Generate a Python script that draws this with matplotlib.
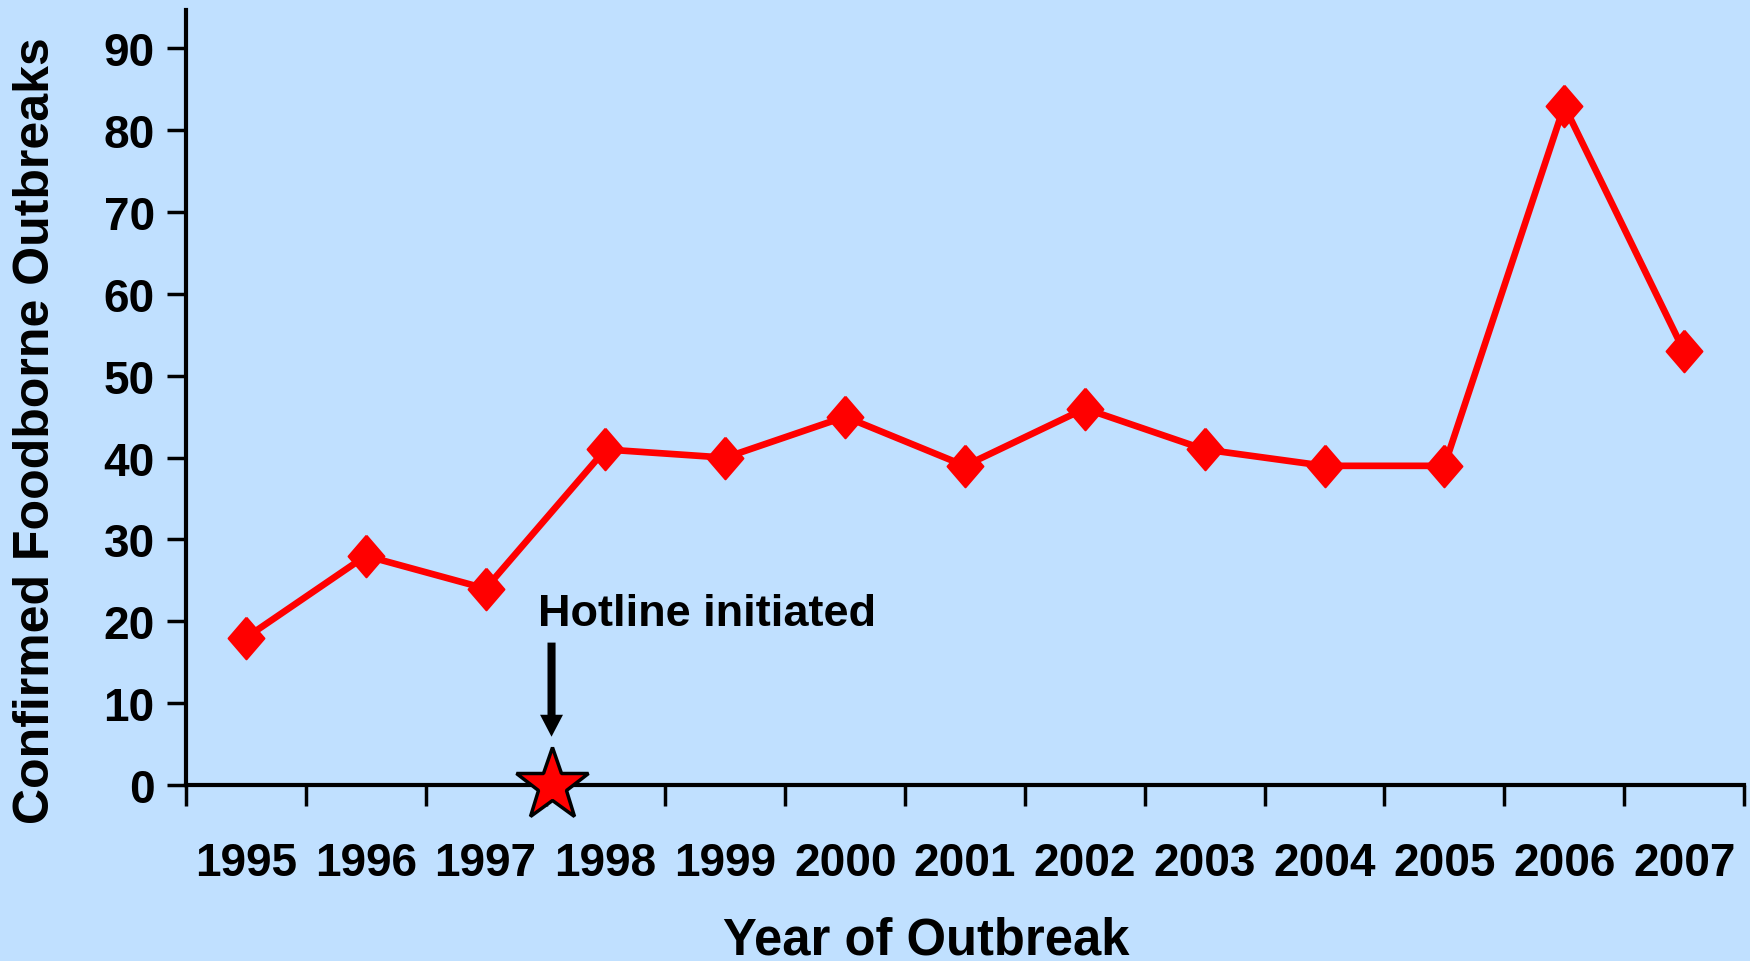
import numpy as np
import matplotlib
matplotlib.use('Agg')
from matplotlib import pyplot as plt

years = ['1995', '1996', '1997', '1998', '1999', '2000', '2001',
         '2002', '2003', '2004', '2005', '2006', '2007']
outbreaks = [18, 28, 24, 41, 40, 45, 39, 46, 41, 39, 39, 83, 53]
yticks = [0, 10, 20, 30, 40, 50, 60, 70, 80, 90]
hotline_pos = 2.55   # between 1997 and 1998 (category index)
hotline_text = 'Hotline initiated'

bg = '#C0E0FF'
font = ['Liberation Sans', 'DejaVu Sans']

fig = plt.figure(figsize=(17.5, 9.62), dpi=100, facecolor=bg)
ax = fig.add_axes([186/1750, 1 - 786/962, (1744-186)/1750, (786-11)/962])
ax.set_facecolor(bg)

# slightly tall diamond, like the original markers
diamond = [(0, 1), (0.86, 0), (0, -1), (-0.86, 0), (0, 1)]

x = np.arange(len(years))
ax.plot(x, outbreaks, color='red', lw=4.8, marker=diamond, ms=30, mec='red',
        mew=1.5, zorder=3, clip_on=False)

# star marking the hotline start
ax.plot([hotline_pos], [0], marker='*', ms=55, mfc='red', mec='black', mew=2.5,
        zorder=5, clip_on=False)
ax.annotate('', xy=(hotline_pos, 5.9), xytext=(hotline_pos, 17.4),
            arrowprops=dict(width=5.8, headwidth=16.5, headlength=15.8,
                            shrink=0, fc='black', ec='none'))
ax.text(hotline_pos - 0.11, 21, hotline_text, ha='left', va='center',
        fontsize=32.5, fontweight='bold', family=font)

ax.set_xlim(-0.5, len(years) - 0.5)
ax.set_ylim(0, 94.7)

ax.set_xticks(x)
ax.set_xticklabels(years, fontsize=33, fontweight='bold', family=font)
ax.set_xticks(np.arange(-0.5, len(years)), minor=True)
ax.tick_params(axis='x', which='major', length=0, pad=40.5)
ax.tick_params(axis='x', which='minor', length=15, width=2.5, direction='out')

ax.set_yticks(yticks)
ax.set_yticklabels([str(v) for v in yticks], fontsize=33, fontweight='bold', family=font)
ax.tick_params(axis='y', length=14, width=2.5, direction='out', pad=8.5)

for s in ['top', 'right']:
    ax.spines[s].set_visible(False)
for s in ['left', 'bottom']:
    ax.spines[s].set_linewidth(3)

ax.set_ylabel('Confirmed Foodborne Outbreaks', fontsize=36, fontweight='bold',
              family=font, va='center')
ax.yaxis.set_label_coords(-0.096, 0.459)
ax.set_xlabel('Year of Outbreak', fontsize=36.5, fontweight='bold', family=font,
              va='center')
ax.xaxis.set_label_coords(0.475, -0.2)

fig.savefig('out.png', dpi=100, facecolor=bg)
